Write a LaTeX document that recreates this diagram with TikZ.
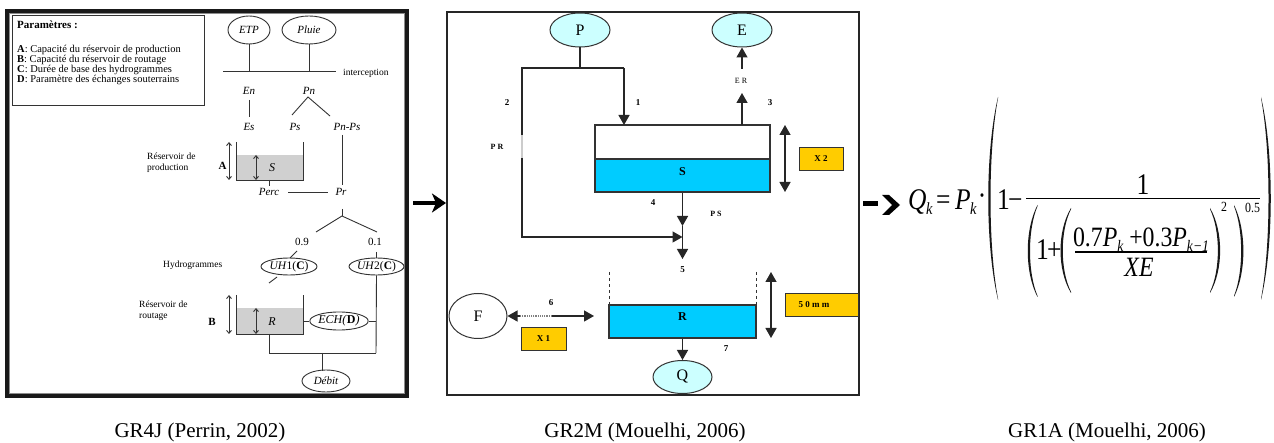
\documentclass[tikz,border=0pt]{standalone}
\usepackage{fontspec}
\setmainfont{Liberation Serif}
\usepackage{graphicx}
\usetikzlibrary{arrows.meta,shapes.geometric}
\definecolor{tankgrey}{HTML}{D0D0D0}
\definecolor{watercyan}{HTML}{00CCFF}
\definecolor{palecyan}{HTML}{CCFFFF}
\definecolor{paramgold}{HTML}{FFCC00}
\definecolor{inkgrey}{HTML}{333333}
\newcommand\fs[1]{\fontsize{#1}{#1}\selectfont}
% formula glyphs are set slightly condensed
\newcommand\sx[1]{\scalebox{0.85}[1]{#1}}
% tall delimiter: end x, top y, bottom y, outer bulge, inner bulge (signed)
\newcommand\parenpath[5]{%
  \fill[black!90] (#1,#2) .. controls ({#1+#4},{#2+0.27*(#3-#2)}) and ({#1+#4},{#3-0.27*(#3-#2)}) .. (#1,#3)
    -- (#1,{#3-1.2}) .. controls ({#1+#5},{#3-0.27*(#3-#2)}) and ({#1+#5},{#2+0.27*(#3-#2)}) .. (#1,{#2+1.2}) -- cycle;}
\begin{document}
\begin{tikzpicture}[x=1pt,y=-1pt,
  every node/.style={inner sep=0pt},
  tx/.style={font=\fs{10.5}},
  sm/.style={font=\fs{9.5}},
  itx/.style={font=\fs{11}\itshape},
  oval/.style={ellipse, draw=inkgrey, line width=0.9pt},
  wire/.style={draw=inkgrey, line width=0.9pt},
  gauge/.style={wire, {Straight Barb[length=3pt,width=5pt]}-{Straight Barb[length=3pt,width=5pt]}},
  flowline/.style={draw=black!85, line width=1.3pt},
  flowarrow/.style={flowline, -{Triangle[length=10pt,width=11pt]}},
  flowboth/.style={flowline, {Triangle[length=10pt,width=11pt]}-{Triangle[length=10pt,width=11pt]}},
  num/.style={font=\fs{9}\bfseries},
  ioval/.style={ellipse, draw=black!80, line width=1pt, fill=palecyan, font=\fs{16}},
  parbox/.style={draw=inkgrey, line width=0.9pt, fill=paramgold, font=\fs{9}\bfseries},
  fx/.style={font=\fs{30}},
  fsub/.style={font=\fs{17}\itshape},
  fexp/.style={font=\fs{14}},
  captext/.style={font=\fs{21}, anchor=base}
]
\fill[white] (0,0) rectangle (1274,443);
\useasboundingbox (0,0) rectangle (1274,443);

%% ---------------- GR4J ----------------
\draw[line width=3.2pt, black!90] (7,11) rectangle (407,396);
\draw[line width=0.8pt, black!45] (9.5,13.5) rectangle (404.5,393.5);

\node[draw=inkgrey, line width=0.9pt, anchor=north west, minimum width=192pt, minimum height=90pt] (params) at (12,15) {};
\node[anchor=base west, font=\fs{11}\bfseries] (ptitle) at (17,29) {Paramètres :};
\node[anchor=base west, tx] (pa) at (17,53) {\textbf{A}: Capacité du réservoir de production};
\node[anchor=base west, tx] (pb) at (17,63) {\textbf{B}: Capacité du réservoir de routage};
\node[anchor=base west, tx] (pc) at (17,73) {\textbf{C}: Durée de base des hydrogrammes};
\node[anchor=base west, tx] (pd) at (17,83) {\textbf{D}: Paramètre des échanges souterrains};

\node[oval, minimum width=42pt, minimum height=28pt, itx] (etp) at (249,30) {ETP};
\node[oval, minimum width=54pt, minimum height=28pt, itx] (pluie) at (309,30) {Pluie};
\coordinate (il) at (223,71);
\coordinate (ir) at (336,71);
\coordinate (ietp) at (249,71);
\coordinate (ipluie) at (309,71);
\draw[wire] (etp) -- (ietp);
\draw[wire] (pluie) -- (ipluie);
\draw[wire] (il) -- (ir);
\node[anchor=west, sm] (interc) at (343,73) {interception};

\node[itx] (en) at (249,91) {En};
\node[itx] (pn) at (309,91) {Pn};
\node[itx] (es) at (249,127) {Es};
\node[itx] (ps) at (295,127) {Ps};
\node[itx] (pnps) at (347,127) {Pn-Ps};
\draw[wire] (249,100) -- (249,117);
\coordinate (pnapex) at (308,97);
\draw[wire] (292,115) -- (pnapex) -- (330,116);

% production store
\fill[tankgrey] (236,155) rectangle (303,180);
\draw[wire] (236,142) -- (236,180) -- (303,180) -- (303,142);
\draw[gauge] (229,142) -- (229,180);
\draw[gauge] (256,155) -- (256,180);
\node[font=\fs{11}\bfseries] (la) at (222.5,166) {A};
\node[font=\fs{12}\itshape] (ls) at (272,168) {S};
\node[anchor=base west, sm] (rp1) at (147,160) {Réservoir de};
\node[anchor=base west, sm] (rp2) at (147,171) {production};

\node[itx] (perc) at (269,192) {Perc};
\node[itx] (pr) at (341,192) {Pr};
\draw[wire] (269,180) -- (269,186);
\draw[wire] (288,192) -- (328,192);
\draw[wire] (342,135) -- (342,185);
\coordinate (fork) at (342,216);
\draw[wire] (342,209) -- (fork);
\draw[wire] (316,232) -- (fork) -- (377,232);
\node[font=\fs{11}] (n09) at (302,242) {0.9};
\node[font=\fs{11}] (n01) at (375,242) {0.1};
\draw[wire] (297,251) -- (290,258);
\draw[wire] (376,252) -- (376,258);

\node[anchor=west, sm] (hydro) at (163,265) {Hydrogrammes};
\node[oval, minimum width=56pt, minimum height=17pt, font=\fs{11.5}] (uh1) at (289,266.5) {\textit{UH}1(\textbf{C})};
\node[oval, minimum width=53pt, minimum height=17pt, font=\fs{11.5}] (uh2) at (376.5,266.5) {\textit{UH}2(\textbf{C})};
\draw[wire] (277,277) -- (269,283);

% routing store
\fill[tankgrey] (236,308) rectangle (303,334);
\draw[wire] (236,295) -- (236,334) -- (303,334) -- (303,295);
\draw[gauge] (229,295) -- (229,334);
\draw[gauge] (256,308) -- (256,334);
\node[font=\fs{11}\bfseries] (lb) at (212,322) {B};
\node[font=\fs{12}\itshape] (lr) at (272,322) {R};
\node[anchor=base west, sm] (rr1) at (139,308) {Réservoir de};
\node[anchor=base west, sm] (rr2) at (139,319) {routage};

\node[oval, minimum width=48pt, minimum height=18pt, font=\fs{12}] (ech) at (339,321) {\textit{ECH(}\textbf{D}\textit{)}};
\coordinate (joinr) at (376,353);
\coordinate (joinl) at (269,353);
\coordinate (joinq) at (322,353);
\draw[wire] (303,321) -- (ech.west);
\draw[wire] (ech.east) -- (376,321);
\draw[wire] (uh2.south) -- (joinr);
\draw[wire] (joinl) -- (joinr);
\draw[wire] (269,334) -- (joinl);
\node[oval, minimum width=48pt, minimum height=22pt, itx] (debit) at (326,381) {Débit};
\draw[wire] (joinq) -- (322,370.6);

%% ---------------- GR2M ----------------
\draw[line width=1.6pt, black!85] (447,12) rectangle (859,395);

\node[ioval, minimum width=60pt, minimum height=34pt] (p) at (580,30) {P};
\node[ioval, minimum width=60pt, minimum height=34pt] (e) at (742,30) {E};

% store S
\fill[watercyan] (595,159) rectangle (770,192);
\node[draw=black!80, line width=1.3pt, minimum width=175pt, minimum height=67pt] (stank) at (682.5,158.5) {};
\draw[black!80, line width=1.3pt] (595,159) -- (770,159);
\node[font=\fs{12}\bfseries] (slabel) at (682.5,172) {S};

\coordinate (psplit) at (580,68);
\coordinate (pleft) at (522,68);
\coordinate (pright) at (624,68);
\coordinate (bypass) at (522,237);
\coordinate (merge) at (682.5,237);
\draw[flowline] (p.south) -- (psplit);
\draw[flowline] (522,135) -- (pleft) -- (pright);
\draw[draw=black!20, line width=1.3pt] (522,135) -- (522,158);
\draw[flowarrow] (pright) -- (624,125);
\draw[flowarrow] (522,158) -- (bypass) -- (merge);

\draw[flowarrow] (742,125) -- (742,93);
\node[font=\fs{8}] (er) at (741,81) {E R};
\draw[flowarrow] (742,69) -- (e.south);

\draw[flowboth] (785,125) -- (785,192);
\node[parbox, minimum width=44pt, minimum height=23pt] (x2) at (821,158.5) {X 2};

\coordinate (psflow) at (682.5,226);
\draw[flowarrow] (stank.south) -- (psflow);
\draw[flowarrow] (psflow) -- (682.5,259);

\node[num] (n1) at (638,103) {1};
\node[num] (n2) at (507,103) {2};
\node[num] (n3) at (770,103) {3};
\node[num] (n4) at (653,203) {4};
\node[num] (n5) at (682.5,270) {5};
\node[num] (n6) at (551,303) {6};
\node[num] (n7) at (726,349) {7};
\node[font=\fs{8}\bfseries] (prl) at (497,147) {P R};
\node[font=\fs{8}\bfseries] (psl) at (716,214) {P S};

% store R
\draw[black!80, line width=1pt, dashed] (609,272) -- (609,305);
\draw[black!80, line width=1pt, dashed] (756,272) -- (756,305);
\node[draw=black!80, line width=1.3pt, fill=watercyan, minimum width=147pt, minimum height=33pt] (rtank) at (682.5,321.5) {};
\node[font=\fs{12}\bfseries] (rlabel) at (682.5,317) {R};
\draw[flowboth] (771,272) -- (771,338);
\node[parbox, minimum width=73pt, minimum height=23pt] (mmbox) at (821.5,304.5) {};
\node[font=\fs{9}\bfseries] (mm) at (814,304.5) {5 0 m m};

\node[ellipse, draw=black!80, line width=1pt, fill=white, minimum width=58pt, minimum height=45pt, font=\fs{16}] (f) at (478,316) {F};
\coordinate (xsplit) at (552,316);
\coordinate (xend) at (594,316);
\draw[flowarrow] (xsplit) -- (xend);
\draw[gray, line width=1.2pt, densely dotted] (xsplit) -- (519,316);
\draw[flowarrow] (520,316) -- (f.east);
\node[parbox, minimum width=45pt, minimum height=23pt] (x1) at (543.5,338.5) {X 1};

\node[ioval, minimum width=59pt, minimum height=33pt] (q) at (682.5,377) {Q};
\draw[flowarrow] (rtank.south) -- (q.north);

%% ---------------- links between panels ----------------
\coordinate (a1s) at (413,203);
\coordinate (a1e) at (446,203);
\draw[line width=4.5pt, -{Stealth[length=14pt,width=19pt,inset=4pt]}] (a1s) -- (a1e);
\coordinate (a2s) at (863,203.5);
\coordinate (a2e) at (878,203.5);
\draw[line width=4.5pt] (a2s) -- (a2e);
\fill (882,195) -- (889,195) -- (900,205) -- (889,215) -- (882,215) -- (892,205) -- cycle;

%% ---------------- GR1A ----------------
\node[fx, anchor=base west] (fq) at (908,210) {\sx{\itshape Q}};
\node[fsub, anchor=base west] (fqk) at (926,215) {\sx{k}};
\node[fx, anchor=base west] (feq) at (936,210) {\sx{=}};
\node[fx, anchor=base west] (fp) at (955,210) {\sx{\itshape P}};
\node[fsub, anchor=base west] (fpk) at (970,215) {\sx{k}};
\node[fx] (fdot) at (982,200) {\sx{·}};
% outer delimiters
\parenpath{998}{97}{300}{-13}{-10}
\parenpath{1261}{97}{300}{13}{10}
\node[fx, anchor=base west] (fone) at (997,210) {\sx{1}};
\node[fx, anchor=base west] (fminus) at (1008,210) {\sx{−}};
\coordinate (fb1) at (1026,198.5);
\coordinate (fb2) at (1260,198.5);
\draw[line width=1.2pt] (fb1) -- (fb2);
\node[fx, anchor=base] (fnum) at (1143,195) {\sx{1}};
% denominator delimiters
\parenpath{1037.5}{205}{297}{-13}{-10}
\parenpath{1234}{205}{297}{12.5}{9.5}
\node[fexp, anchor=base west] (fe05) at (1245,213) {\sx{0.5}};
\node[fx, anchor=base west] (fdone) at (1036,260) {\sx{1}};
\node[fx, anchor=base west] (fplus) at (1047,260) {\sx{+}};
% inner delimiters
\parenpath{1071}{208}{293}{-14}{-11}
\parenpath{1210}{208}{293}{13.5}{10.5}
\node[fexp, anchor=base west] (fe2) at (1221,212) {\sx{2}};
\node[anchor=base] (finum) at (1141,247) {\sx{\fs{28}0.7\textit{P}\raisebox{-5pt}{\fs{16}\itshape k} +0.3\textit{P}\raisebox{-5pt}{\fs{16}\itshape k−1}}};
\coordinate (ib1) at (1075,252);
\coordinate (ib2) at (1207,252);
\draw[line width=1.2pt] (ib1) -- (ib2);
\node[anchor=base] (fxe) at (1139,277) {\sx{\fs{28}\itshape XE}};

%% ---------------- captions ----------------
\node[captext] (c1) at (200,437) {GR4J (Perrin, 2002)};
\node[captext] (c2) at (645,437) {GR2M (Mouelhi, 2006)};
\node[captext] (c3) at (1107,437) {GR1A (Mouelhi, 2006)};
\end{tikzpicture}
\end{document}
